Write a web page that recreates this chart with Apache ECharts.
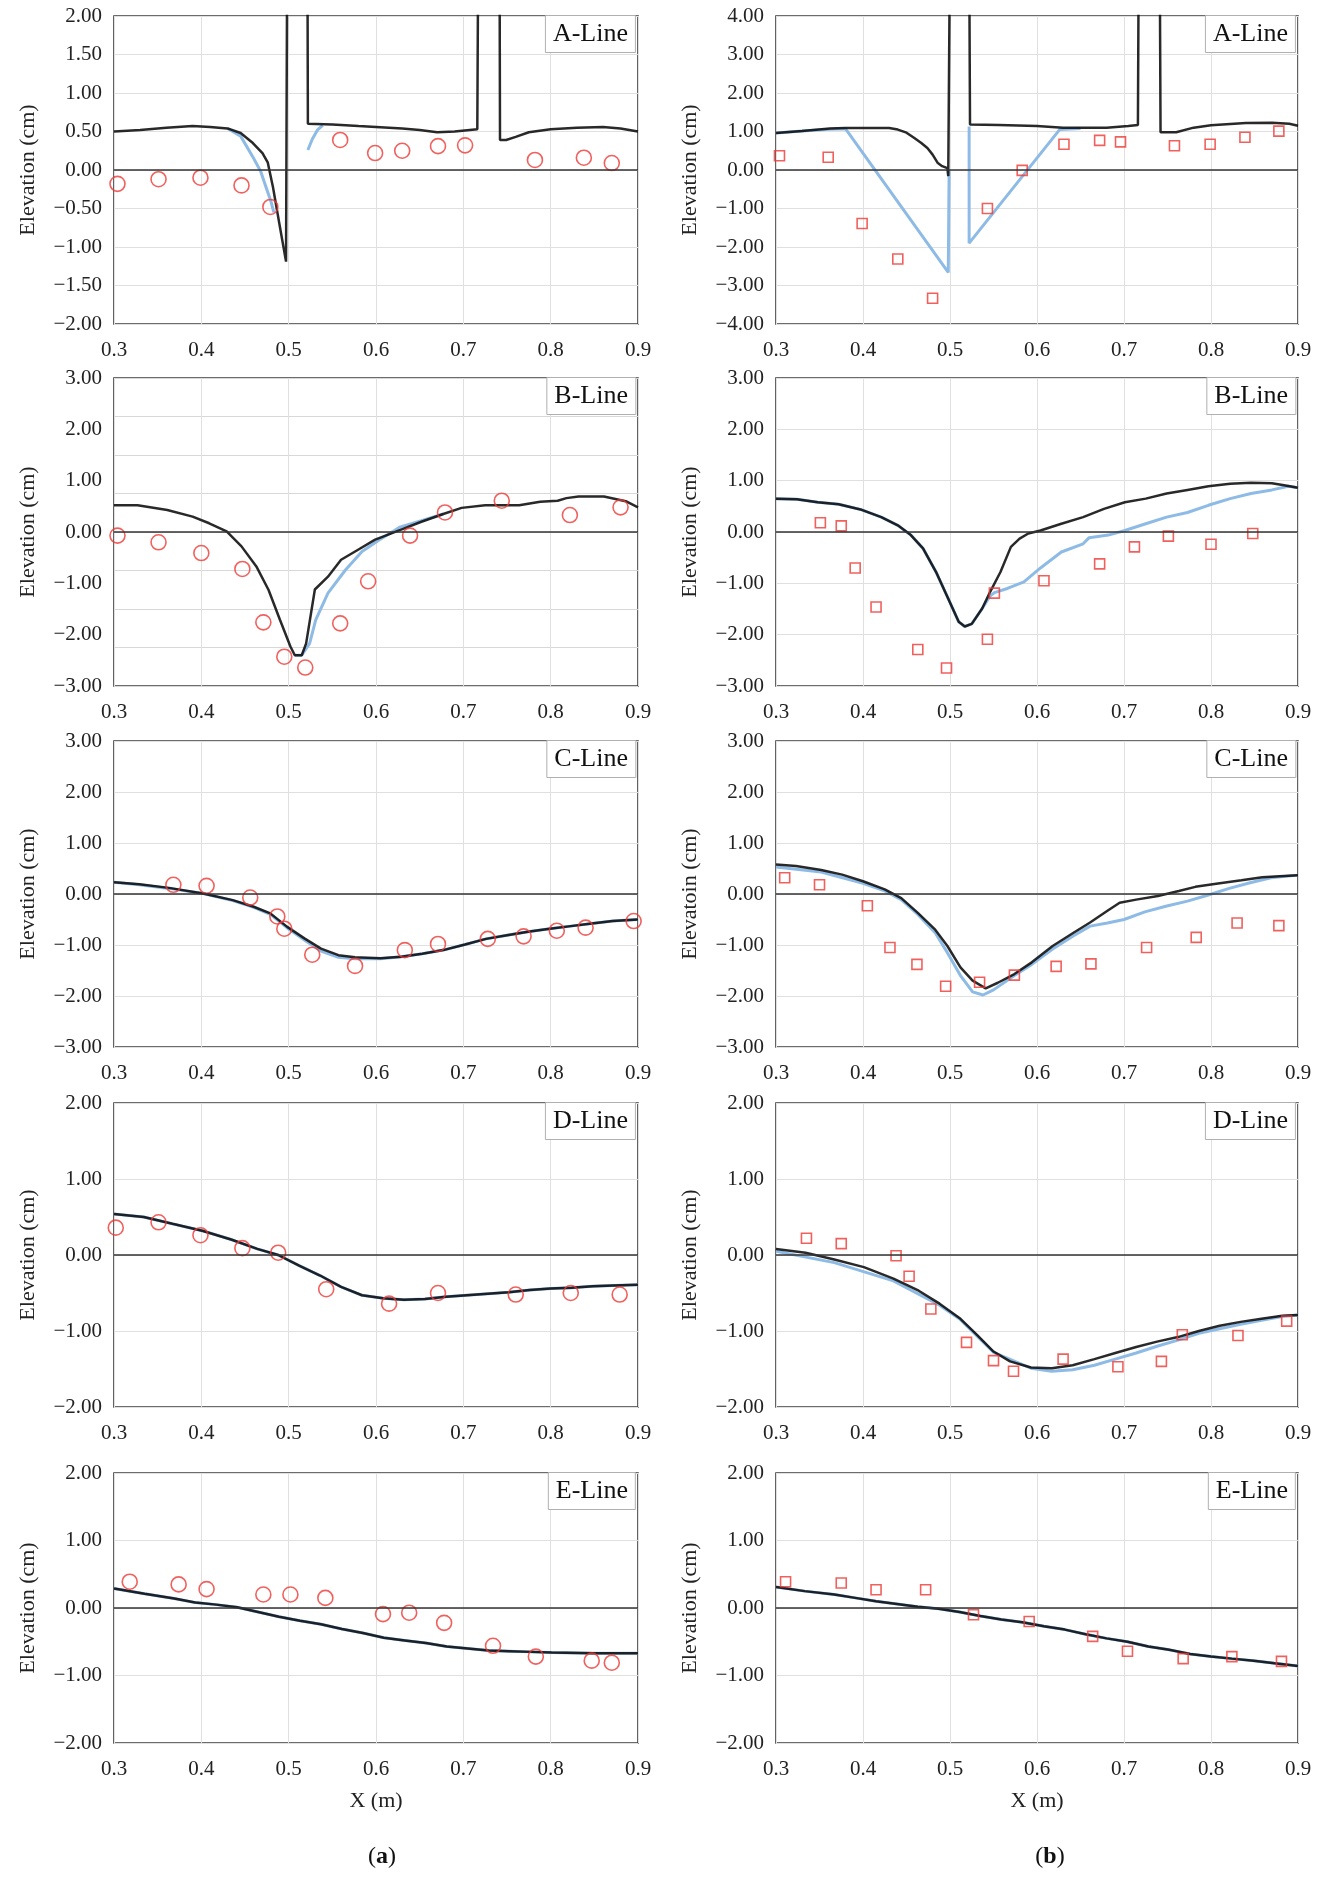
<!DOCTYPE html>
<html>
<head>
<meta charset="utf-8">
<script src="https://cdn.jsdelivr.net/npm/echarts@6/dist/echarts.min.js"></script>
<style>
  html, body { margin: 0; padding: 0; background: #fff; }
  #chart { width: 1322px; height: 1882px; }
</style>
</head>
<body>
<div id="chart"></div>
<script>
// x range shared by every panel: [min, max, interval]
const xRange = [0.3, 0.9, 0.1];

// y ranges per line: [min, max, interval]
const yRangeA1 = [-2, 2, 0.5];
const yRangeA2 = [-4, 4, 1];
const yRangeB = [-3, 3, 1];
const yGridB1 = [-3, 3, 0.75]; // the (a) B-Line panel has its grid lines every 0.75
const yRangeC = [-3, 3, 1];
const yRangeD = [-2, 2, 1];
const yRangeE = [-2, 2, 1];

// ---- A-Line ----
const aLeftBlack = [[0.3,0.50],[0.33,0.52],[0.36,0.55],[0.39,0.57],[0.41,0.56],[0.43,0.54],[0.445,0.48],[0.459,0.35],[0.47,0.22],[0.476,0.10],[0.482,-0.22],[0.49,-0.74],[0.497,-1.19],[0.499,5],[0.521,5],[0.522,0.60],[0.55,0.59],[0.58,0.57],[0.6,0.56],[0.63,0.54],[0.65,0.52],[0.67,0.49],[0.69,0.50],[0.716,0.53],[0.718,5],[0.741,5],[0.742,0.39],[0.749,0.39],[0.76,0.43],[0.775,0.49],[0.8,0.53],[0.83,0.55],[0.86,0.56],[0.88,0.54],[0.9,0.50]];
const aLeftBlue = [[0.43,0.54],[0.445,0.44],[0.459,0.17],[0.468,-0.02],[0.474,-0.22],[0.48,-0.42],[0.483,-0.55],[0.5,null],[0.522,0.26],[0.527,0.40],[0.533,0.52],[0.539,0.58]];
const aLeftPts = [[0.304,-0.18],[0.351,-0.12],[0.399,-0.10],[0.446,-0.20],[0.479,-0.48],[0.559,0.39],[0.599,0.22],[0.630,0.25],[0.671,0.31],[0.702,0.32],[0.782,0.13],[0.838,0.16],[0.870,0.09]];

const aRightBlack = [[0.3,0.96],[0.33,1.01],[0.362,1.08],[0.38,1.09],[0.43,1.09],[0.44,1.05],[0.45,0.97],[0.459,0.83],[0.467,0.70],[0.474,0.57],[0.48,0.40],[0.486,0.18],[0.491,0.10],[0.497,0.05],[0.498,-0.16],[0.5,6],[0.522,6],[0.523,1.18],[0.556,1.17],[0.6,1.14],[0.63,1.10],[0.68,1.10],[0.705,1.14],[0.716,1.17],[0.717,6],[0.741,6],[0.742,0.98],[0.76,0.98],[0.78,1.10],[0.8,1.16],[0.84,1.22],[0.87,1.23],[0.89,1.20],[0.9,1.15]];
const aRightBlue = [[0.3,0.96],[0.33,1.01],[0.362,1.06],[0.38,1.07],[0.498,-2.66],[0.499,0.0],[0.51,null],[0.522,1.13],[0.522,-1.90],[0.626,1.05],[0.65,1.08]];
const aRightPts = [[0.304,0.37],[0.360,0.33],[0.399,-1.39],[0.440,-2.31],[0.480,-3.33],[0.543,-1.00],[0.583,-0.01],[0.631,0.67],[0.672,0.77],[0.696,0.73],[0.758,0.63],[0.799,0.67],[0.839,0.85],[0.878,1.01]];

// ---- B-Line ----
const bLeftBlack = [[0.3,0.52],[0.327,0.52],[0.361,0.43],[0.39,0.30],[0.409,0.17],[0.429,0.01],[0.446,-0.28],[0.463,-0.67],[0.477,-1.13],[0.49,-1.71],[0.502,-2.23],[0.507,-2.40],[0.515,-2.40],[0.52,-2.17],[0.53,-1.12],[0.545,-0.87],[0.56,-0.54],[0.579,-0.35],[0.599,-0.15],[0.628,0.04],[0.652,0.20],[0.677,0.35],[0.698,0.47],[0.725,0.52],[0.764,0.52],[0.788,0.59],[0.808,0.61],[0.818,0.66],[0.832,0.69],[0.861,0.69],[0.886,0.60],[0.9,0.48]];
const bLeftBlue = [[0.507,-2.40],[0.515,-2.40],[0.524,-2.17],[0.531,-1.71],[0.545,-1.19],[0.565,-0.74],[0.584,-0.38],[0.604,-0.15],[0.628,0.10],[0.652,0.22],[0.677,0.35]];
const bLeftPts = [[0.304,-0.07],[0.351,-0.20],[0.400,-0.41],[0.447,-0.72],[0.471,-1.76],[0.495,-2.43],[0.519,-2.64],[0.559,-1.78],[0.591,-0.96],[0.639,-0.07],[0.679,0.38],[0.744,0.61],[0.822,0.33],[0.880,0.48]];

const bRightBlack = [[0.3,0.65],[0.324,0.64],[0.348,0.58],[0.372,0.54],[0.397,0.44],[0.421,0.29],[0.44,0.13],[0.455,-0.06],[0.469,-0.32],[0.484,-0.78],[0.498,-1.30],[0.51,-1.75],[0.517,-1.84],[0.525,-1.79],[0.537,-1.49],[0.546,-1.17],[0.558,-0.78],[0.57,-0.29],[0.58,-0.13],[0.59,-0.03],[0.604,0.03],[0.628,0.16],[0.653,0.29],[0.677,0.45],[0.701,0.58],[0.725,0.65],[0.749,0.75],[0.773,0.82],[0.797,0.89],[0.822,0.94],[0.846,0.96],[0.87,0.95],[0.884,0.91],[0.9,0.86]];
const bRightBlue = [[0.3,0.65],[0.324,0.64],[0.348,0.58],[0.372,0.54],[0.397,0.44],[0.421,0.29],[0.44,0.13],[0.455,-0.06],[0.469,-0.32],[0.484,-0.78],[0.498,-1.30],[0.51,-1.75],[0.517,-1.84],[0.525,-1.79],[0.537,-1.49],[0.546,-1.25],[0.551,-1.18],[0.566,-1.10],[0.585,-0.97],[0.604,-0.70],[0.628,-0.39],[0.653,-0.23],[0.66,-0.11],[0.682,-0.06],[0.701,0.03],[0.725,0.16],[0.749,0.29],[0.773,0.38],[0.797,0.52],[0.822,0.65],[0.846,0.75],[0.87,0.82],[0.889,0.89],[0.9,0.86]];
const bRightPts = [[0.351,0.18],[0.375,0.12],[0.391,-0.70],[0.415,-1.46],[0.463,-2.29],[0.496,-2.65],[0.543,-2.09],[0.551,-1.19],[0.608,-0.95],[0.672,-0.62],[0.712,-0.29],[0.751,-0.08],[0.800,-0.24],[0.848,-0.03]];

// ---- C-Line ----
const cLeftBlack = [[0.3,0.23],[0.329,0.19],[0.363,0.12],[0.402,0.01],[0.436,-0.12],[0.46,-0.25],[0.479,-0.38],[0.498,-0.64],[0.518,-0.87],[0.537,-1.07],[0.557,-1.20],[0.576,-1.24],[0.605,-1.26],[0.629,-1.23],[0.653,-1.17],[0.677,-1.10],[0.702,-0.99],[0.726,-0.88],[0.75,-0.81],[0.774,-0.74],[0.799,-0.68],[0.823,-0.63],[0.847,-0.58],[0.871,-0.53],[0.9,-0.50]];
const cLeftBlue = [[0.3,0.23],[0.329,0.18],[0.363,0.11],[0.402,0.01],[0.436,-0.13],[0.46,-0.26],[0.479,-0.40],[0.498,-0.66],[0.518,-0.90],[0.537,-1.12],[0.557,-1.24],[0.576,-1.27],[0.605,-1.27],[0.629,-1.23],[0.653,-1.17],[0.677,-1.10],[0.702,-0.99],[0.726,-0.88],[0.75,-0.81],[0.774,-0.74],[0.799,-0.68],[0.823,-0.63],[0.847,-0.58],[0.871,-0.53],[0.9,-0.50]];
const cLeftPts = [[0.368,0.18],[0.406,0.16],[0.456,-0.07],[0.487,-0.44],[0.495,-0.68],[0.527,-1.19],[0.576,-1.41],[0.633,-1.10],[0.671,-0.98],[0.728,-0.88],[0.769,-0.83],[0.807,-0.72],[0.840,-0.66],[0.895,-0.53]];

const cRightBlack = [[0.3,0.58],[0.323,0.55],[0.352,0.47],[0.376,0.38],[0.40,0.25],[0.425,0.09],[0.444,-0.08],[0.463,-0.37],[0.483,-0.70],[0.497,-1.02],[0.512,-1.44],[0.526,-1.70],[0.541,-1.85],[0.555,-1.74],[0.574,-1.57],[0.594,-1.34],[0.618,-1.02],[0.642,-0.76],[0.661,-0.56],[0.681,-0.33],[0.695,-0.17],[0.714,-0.11],[0.739,-0.04],[0.763,0.06],[0.782,0.14],[0.806,0.20],[0.835,0.27],[0.859,0.33],[0.879,0.35],[0.9,0.37]];
const cRightBlue = [[0.3,0.53],[0.352,0.43],[0.40,0.21],[0.425,0.06],[0.444,-0.11],[0.463,-0.40],[0.483,-0.76],[0.497,-1.15],[0.512,-1.60],[0.526,-1.92],[0.538,-1.98],[0.55,-1.88],[0.574,-1.60],[0.594,-1.38],[0.618,-1.08],[0.642,-0.82],[0.661,-0.63],[0.681,-0.57],[0.70,-0.50],[0.724,-0.35],[0.748,-0.24],[0.773,-0.14],[0.797,-0.02],[0.821,0.11],[0.845,0.22],[0.869,0.32],[0.9,0.37]];
const cRightPts = [[0.310,0.32],[0.350,0.18],[0.405,-0.23],[0.431,-1.05],[0.462,-1.38],[0.495,-1.81],[0.534,-1.73],[0.574,-1.59],[0.622,-1.42],[0.662,-1.37],[0.726,-1.05],[0.783,-0.85],[0.830,-0.57],[0.878,-0.62]];

// ---- D-Line ----
const dLeftLine = [[0.3,0.54],[0.334,0.50],[0.367,0.41],[0.401,0.32],[0.435,0.20],[0.464,0.08],[0.488,0.00],[0.512,-0.14],[0.536,-0.27],[0.56,-0.42],[0.584,-0.53],[0.608,-0.57],[0.632,-0.59],[0.656,-0.58],[0.68,-0.55],[0.704,-0.53],[0.728,-0.51],[0.752,-0.49],[0.776,-0.46],[0.80,-0.44],[0.824,-0.43],[0.848,-0.41],[0.872,-0.40],[0.9,-0.39]];
const dLeftPts = [[0.302,0.36],[0.351,0.43],[0.399,0.26],[0.447,0.09],[0.488,0.03],[0.543,-0.45],[0.615,-0.64],[0.671,-0.50],[0.760,-0.52],[0.823,-0.50],[0.879,-0.52]];

const dRightBlack = [[0.3,0.08],[0.334,0.03],[0.367,-0.06],[0.401,-0.16],[0.435,-0.31],[0.464,-0.47],[0.488,-0.64],[0.512,-0.84],[0.531,-1.05],[0.55,-1.27],[0.569,-1.40],[0.593,-1.48],[0.617,-1.49],[0.641,-1.45],[0.666,-1.37],[0.69,-1.29],[0.714,-1.21],[0.738,-1.14],[0.762,-1.08],[0.786,-1.00],[0.81,-0.93],[0.834,-0.88],[0.858,-0.84],[0.882,-0.80],[0.9,-0.79]];
const dRightBlue = [[0.3,0.05],[0.367,-0.10],[0.435,-0.34],[0.488,-0.66],[0.512,-0.85],[0.55,-1.28],[0.593,-1.49],[0.617,-1.53],[0.641,-1.51],[0.666,-1.45],[0.69,-1.37],[0.714,-1.29],[0.738,-1.20],[0.762,-1.12],[0.786,-1.03],[0.81,-0.97],[0.834,-0.91],[0.858,-0.86],[0.882,-0.81],[0.9,-0.79]];
const dRightPts = [[0.335,0.22],[0.375,0.15],[0.438,-0.01],[0.453,-0.28],[0.478,-0.71],[0.519,-1.15],[0.550,-1.39],[0.573,-1.53],[0.630,-1.37],[0.693,-1.47],[0.743,-1.40],[0.767,-1.05],[0.831,-1.06],[0.887,-0.87]];

// ---- E-Line ----
const eLeftLine = [[0.3,0.29],[0.335,0.21],[0.369,0.14],[0.393,0.08],[0.417,0.05],[0.441,0.01],[0.465,-0.06],[0.489,-0.13],[0.513,-0.19],[0.537,-0.24],[0.561,-0.31],[0.585,-0.37],[0.609,-0.44],[0.633,-0.48],[0.657,-0.52],[0.681,-0.57],[0.705,-0.60],[0.729,-0.63],[0.753,-0.64],[0.777,-0.65],[0.801,-0.66],[0.849,-0.67],[0.9,-0.67]];
const eLeftPts = [[0.318,0.39],[0.374,0.35],[0.406,0.28],[0.471,0.20],[0.502,0.20],[0.542,0.15],[0.608,-0.09],[0.638,-0.07],[0.678,-0.22],[0.734,-0.56],[0.783,-0.72],[0.847,-0.78],[0.870,-0.81]];

const eRightLine = [[0.3,0.31],[0.333,0.25],[0.367,0.20],[0.391,0.15],[0.415,0.10],[0.439,0.06],[0.463,0.02],[0.487,-0.01],[0.511,-0.06],[0.535,-0.12],[0.559,-0.17],[0.583,-0.21],[0.608,-0.27],[0.632,-0.32],[0.656,-0.39],[0.68,-0.45],[0.704,-0.50],[0.728,-0.57],[0.752,-0.62],[0.776,-0.68],[0.80,-0.72],[0.824,-0.75],[0.849,-0.78],[0.873,-0.82],[0.9,-0.86]];
const eRightPts = [[0.311,0.39],[0.375,0.37],[0.415,0.27],[0.472,0.27],[0.527,-0.10],[0.591,-0.20],[0.664,-0.42],[0.704,-0.64],[0.768,-0.75],[0.824,-0.72],[0.881,-0.79]];

// layout of the 5 x 2 panels (pixels)
const colLeft = [114, 776];
const colWidth = [524, 522];
const rowTop = [16, 378, 741, 1103, 1473];
const rowHeight = [308, 308, 306, 304, 270];

const FONT = 'Liberation Serif';
const RED = '#ec3a36';
const BLUE = '#8dbbe6';
const BLACK = '#0b0b0b';

const panels = [
  { row: 0, col: 0, label: 'A-Line', yName: 'Elevation (cm)', y: yRangeA1, black: aLeftBlack, blue: aLeftBlue, pts: aLeftPts },
  { row: 0, col: 1, label: 'A-Line', yName: 'Elevation (cm)', y: yRangeA2, black: aRightBlack, blue: aRightBlue, pts: aRightPts },
  { row: 1, col: 0, label: 'B-Line', yName: 'Elevation (cm)', y: yRangeB, grid: yGridB1, black: bLeftBlack, blue: bLeftBlue, pts: bLeftPts },
  { row: 1, col: 1, label: 'B-Line', yName: 'Elevation (cm)', y: yRangeB, black: bRightBlack, blue: bRightBlue, pts: bRightPts },
  { row: 2, col: 0, label: 'C-Line', yName: 'Elevation (cm)', y: yRangeC, black: cLeftBlack, blue: cLeftBlue, pts: cLeftPts },
  { row: 2, col: 1, label: 'C-Line', yName: 'Elevatoin (cm)', y: yRangeC, black: cRightBlack, blue: cRightBlue, pts: cRightPts },
  { row: 3, col: 0, label: 'D-Line', yName: 'Elevation (cm)', y: yRangeD, black: dLeftLine, blue: dLeftLine, pts: dLeftPts },
  { row: 3, col: 1, label: 'D-Line', yName: 'Elevation (cm)', y: yRangeD, black: dRightBlack, blue: dRightBlue, pts: dRightPts },
  { row: 4, col: 0, label: 'E-Line', yName: 'Elevation (cm)', y: yRangeE, black: eLeftLine, blue: eLeftLine, pts: eLeftPts },
  { row: 4, col: 1, label: 'E-Line', yName: 'Elevation (cm)', y: yRangeE, black: eRightLine, blue: eRightLine, pts: eRightPts }
];

function fmtY(v) {
  return v.toFixed(2).replace('-', '\u2212');
}

const grids = [], xAxes = [], yAxes = [], series = [], titles = [];

panels.forEach(function (p, i) {
  const left = colLeft[p.col], width = colWidth[p.col];
  const top = rowTop[p.row], height = rowHeight[p.row];
  grids.push({ left: left, top: top, width: width, height: height, show: true, borderColor: '#3c3c3c', borderWidth: 1.6 });

  xAxes.push({
    gridIndex: i, type: 'value', min: xRange[0], max: xRange[1], interval: xRange[2],
    axisLine: { show: false }, axisTick: { show: false },
    axisLabel: { fontFamily: FONT, fontSize: 21, color: '#222', margin: 16, formatter: function (v) { return v.toFixed(1); } },
    splitLine: { show: true, lineStyle: { color: '#e0e0e0', width: 1 } },
    name: p.row === 4 ? 'X (m)' : '', nameLocation: 'middle', nameGap: 47,
    nameTextStyle: { fontFamily: FONT, fontSize: 22, color: '#222' }
  });

  const yIndex = yAxes.length;
  yAxes.push({
    gridIndex: i, type: 'value', min: p.y[0], max: p.y[1], interval: p.y[2],
    axisLine: { show: false }, axisTick: { show: false },
    axisLabel: { fontFamily: FONT, fontSize: 21, color: '#222', margin: 12, formatter: fmtY },
    splitLine: { show: !p.grid, lineStyle: { color: '#e0e0e0', width: 1 } },
    name: p.yName, nameLocation: 'middle', nameGap: 75,
    nameTextStyle: { fontFamily: FONT, fontSize: 22, color: '#222' }
  });
  if (p.grid) {
    yAxes.push({
      gridIndex: i, type: 'value', min: p.grid[0], max: p.grid[1], interval: p.grid[2],
      axisLine: { show: false }, axisTick: { show: false }, axisLabel: { show: false },
      splitLine: { show: true, lineStyle: { color: '#d8d8d8', width: 1 } }
    });
  }

  series.push({
    type: 'line', xAxisIndex: i, yAxisIndex: yIndex, data: p.blue, symbol: 'none',
    connectNulls: false, z: 2,
    lineStyle: { color: BLUE, width: 3 },
    markLine: {
      silent: true, symbol: ['none', 'none'], label: { show: false },
      lineStyle: { color: '#333', width: 1.5, type: 'solid' },
      data: [{ yAxis: 0 }]
    }
  });
  series.push({
    type: 'line', xAxisIndex: i, yAxisIndex: yIndex, data: p.black, symbol: 'none', z: 3,
    lineStyle: { color: BLACK, width: 2.5, opacity: 0.88 }
  });
  series.push({
    type: 'scatter', xAxisIndex: i, yAxisIndex: yIndex, data: p.pts, z: 4,
    symbol: p.col === 0 ? 'circle' : 'rect',
    symbolSize: p.col === 0 ? 15 : 10,
    itemStyle: { color: 'rgba(255,255,255,0)', borderColor: RED, borderWidth: 1.6 }
  });

  titles.push({
    text: p.label, right: 1322 - (left + width) + 2, top: top - 1,
    backgroundColor: '#fff', borderColor: '#b0b0b0', borderWidth: 1,
    padding: [6, 8, 5, 8],
    textStyle: { fontFamily: FONT, fontSize: 26, lineHeight: 27, fontWeight: 'normal', color: '#111' }
  });
});

titles.push({
  text: '({b|a})', left: 377, top: 1840, textAlign: 'center',
  textStyle: { fontFamily: FONT, fontSize: 24, fontWeight: 'normal', color: '#111',
    rich: { b: { fontFamily: FONT, fontSize: 24, fontWeight: 'bold', color: '#111' } } }
});
titles.push({
  text: '({b|b})', left: 1045, top: 1840, textAlign: 'center',
  textStyle: { fontFamily: FONT, fontSize: 24, fontWeight: 'normal', color: '#111',
    rich: { b: { fontFamily: FONT, fontSize: 24, fontWeight: 'bold', color: '#111' } } }
});

const myChart = echarts.init(document.getElementById('chart'));
myChart.setOption({
  animation: false,
  backgroundColor: '#fff',
  title: titles,
  grid: grids,
  xAxis: xAxes,
  yAxis: yAxes,
  series: series
});
</script>
</body>
</html>
